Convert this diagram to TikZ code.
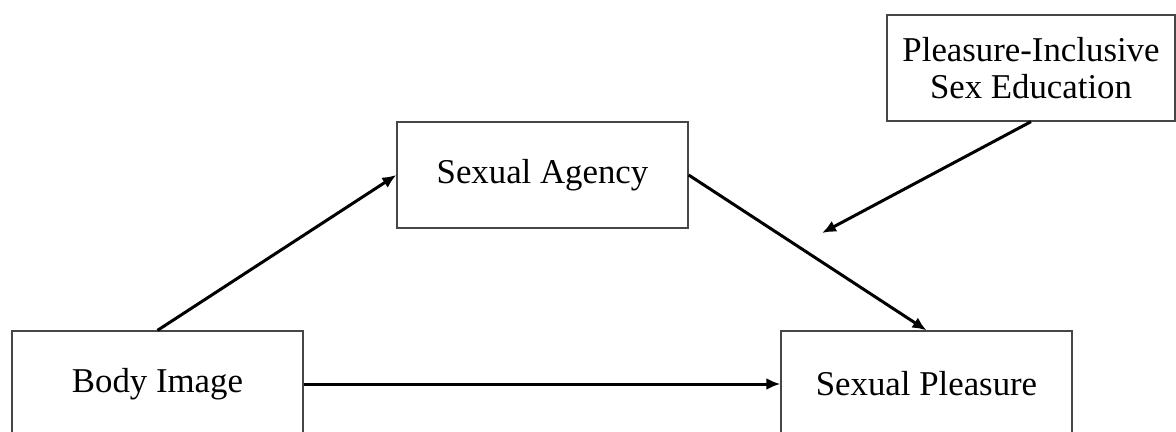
\documentclass[tikz,border=0pt]{standalone}
\usepackage{fontspec}
\setmainfont{Liberation Serif}
\usepackage{tikz}
\usetikzlibrary{arrows.meta, positioning, calc}
\definecolor{myedge}{RGB}{70,70,70}
\definecolor{mydark}{RGB}{0,0,0}
\tikzset{
  varbox/.style={rectangle, draw=myedge, fill=white, line width=0.65pt,
    minimum width=145.5pt, minimum height=53pt, align=center,
    inner sep=0pt, font=\fontsize{17.4}{18.5}\selectfont},
  arrow/.style={-{Latex[length=7pt, width=6pt]}, line width=1.5pt, color=mydark}
}

\begin{document}
\begin{tikzpicture}[x=0.5pt, y=-0.5pt]
  \useasboundingbox (0,0) rectangle (1176,432);

  % Variables
  \node[varbox] (body) at (157.5,384) {Body Image};
  \node[varbox] (agency) at (542.5,175) {Sexual Agency};
  \node[varbox] (pleasure) at (926.5,384) {Sexual Pleasure};
  \node[varbox, minimum width=144pt] (educ) at (1031,68) {Pleasure-Inclusive\\Sex Education};

  % Moderation target
  \coordinate (modpt) at (822,233);

  % Paths
  \draw[arrow] (body.north) -- (agency.west);
  \draw[arrow] (agency.east) -- (pleasure.north);
  \draw[arrow] (body.east) -- (pleasure.west);
  \draw[arrow] (educ.south) -- (modpt);
\end{tikzpicture}
\end{document}
